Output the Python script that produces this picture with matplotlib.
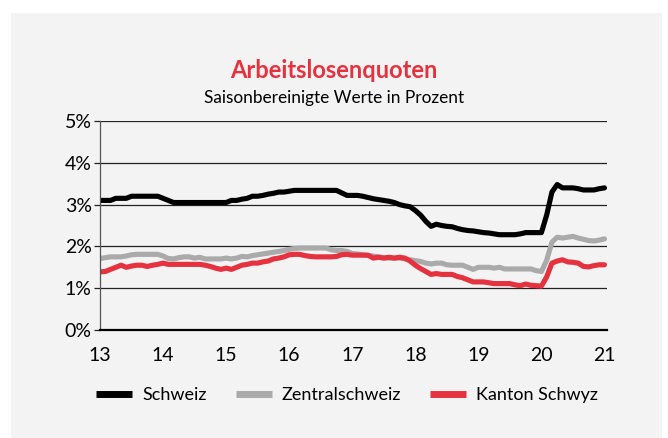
import numpy as np
import matplotlib
matplotlib.use("Agg")
import matplotlib.pyplot as plt
from matplotlib.patches import Rectangle

plt.rcParams["font.family"] = ["Lato", "DejaVu Sans"]

# monthly values, Jan 2013 .. Jan 2021
schweiz = [
    3.1, 3.1, 3.1, 3.15, 3.15, 3.15, 3.2, 3.2, 3.2, 3.2, 3.2, 3.2,
    3.15, 3.1, 3.05, 3.05, 3.05, 3.05, 3.05, 3.05, 3.05, 3.05, 3.05, 3.05,
    3.05, 3.1, 3.1, 3.13, 3.15, 3.2, 3.2, 3.22, 3.25, 3.27, 3.3, 3.3,
    3.32, 3.34, 3.34, 3.34, 3.34, 3.34, 3.34, 3.34, 3.34, 3.34, 3.28, 3.22,
    3.22, 3.22, 3.2, 3.17, 3.14, 3.12, 3.1, 3.08, 3.05, 3.0, 2.97, 2.95,
    2.86, 2.75, 2.6, 2.48, 2.53, 2.5, 2.48, 2.47, 2.43, 2.4, 2.38, 2.37,
    2.35, 2.33, 2.32, 2.3, 2.28, 2.28, 2.28, 2.28, 2.3, 2.33, 2.33, 2.33,
    2.33, 2.75, 3.3, 3.48, 3.4, 3.4, 3.4, 3.38, 3.35, 3.35, 3.35, 3.38,
    3.4,
]
zentralschweiz = [
    1.71, 1.73, 1.75, 1.75, 1.75, 1.77, 1.8, 1.81, 1.81, 1.81, 1.81, 1.81,
    1.77, 1.71, 1.7, 1.73, 1.75, 1.75, 1.72, 1.74, 1.7, 1.7, 1.7, 1.7,
    1.72, 1.7, 1.72, 1.76, 1.75, 1.78, 1.8, 1.82, 1.84, 1.86, 1.88, 1.9,
    1.93, 1.95, 1.96, 1.96, 1.96, 1.96, 1.96, 1.96, 1.92, 1.9, 1.9, 1.88,
    1.83, 1.82, 1.8, 1.78, 1.77, 1.75, 1.73, 1.72, 1.72, 1.72, 1.7, 1.68,
    1.66, 1.64, 1.6, 1.58, 1.6, 1.6, 1.56, 1.55, 1.55, 1.55, 1.5, 1.45,
    1.5, 1.5, 1.5, 1.48, 1.5, 1.46, 1.46, 1.46, 1.46, 1.46, 1.46, 1.42,
    1.4, 1.67, 2.1, 2.22, 2.2, 2.22, 2.24, 2.2, 2.17, 2.14, 2.13, 2.15,
    2.18,
]
kanton_schwyz = [
    1.39, 1.4, 1.45, 1.5, 1.55, 1.5, 1.53, 1.55, 1.55, 1.52, 1.55, 1.57,
    1.6, 1.57, 1.57, 1.57, 1.57, 1.57, 1.57, 1.57, 1.55, 1.52, 1.48, 1.45,
    1.48, 1.45, 1.5, 1.55, 1.57, 1.6, 1.6, 1.63, 1.65, 1.7, 1.72, 1.75,
    1.8, 1.81, 1.81, 1.78, 1.76, 1.75, 1.75, 1.75, 1.75, 1.76, 1.8, 1.81,
    1.79, 1.79, 1.79, 1.79, 1.72, 1.74, 1.72, 1.74, 1.72, 1.74, 1.72, 1.65,
    1.55, 1.47, 1.4, 1.33, 1.35, 1.33, 1.33, 1.33, 1.28, 1.25, 1.2, 1.15,
    1.15, 1.15, 1.13, 1.11, 1.11, 1.11, 1.11, 1.08, 1.06, 1.1, 1.07, 1.06,
    1.05, 1.27, 1.6, 1.65, 1.68, 1.63, 1.62, 1.6, 1.52, 1.51, 1.54, 1.56,
    1.56,
]
years = list(range(13, 22))
x = 13 + np.arange(len(schweiz)) / 12

red = "#e6323e"

fig = plt.figure(figsize=(6.68, 4.38), dpi=100)
fig.patch.set_facecolor("white")
fig.patches.append(Rectangle((11 / 668, 0), 651 / 668, 1 - 13 / 438,
                             transform=fig.transFigure, facecolor="#f3f3f3",
                             edgecolor="none", zorder=-10))

ax = fig.add_axes([100 / 668, 1 - 330 / 438, 507 / 668, 209 / 438])
ax.set_facecolor("none")

ax.plot(x, schweiz, color="black", lw=3.7, label="Schweiz", solid_capstyle="round")
ax.plot(x, zentralschweiz, color="#aaaaaa", lw=3.7, label="Zentralschweiz", solid_capstyle="round")
ax.plot(x, kanton_schwyz, color=red, lw=3.7, label="Kanton Schwyz", solid_capstyle="round")

ax.set_xlim(13, 21.04)
ax.set_ylim(0, 5)
ax.set_yticks(range(6))
ax.set_yticklabels([f"{v}%" for v in range(6)])
ax.set_xticks(years)
ax.set_xticklabels([str(y) for y in years])
ax.grid(axis="y", color="#222222", lw=0.9)
ax.set_axisbelow(True)
for s in ["top", "right"]:
    ax.spines[s].set_visible(False)
ax.spines["left"].set_color("#555555")
ax.spines["left"].set_linewidth(0.9)
ax.spines["bottom"].set_linewidth(1.6)
ax.tick_params(axis="y", length=4, width=0.9, color="#222222", labelsize=14, pad=2)
ax.tick_params(axis="x", length=0, labelsize=14, pad=12)

fig.text(0.5, 1 - 70 / 438, "Arbeitslosenquoten", ha="center", va="center",
         color=red, fontsize=17, fontweight="bold")
fig.text(0.5, 1 - 98 / 438, "Saisonbereinigte Werte in Prozent", ha="center",
         va="center", fontsize=12.4)

fig.legend(loc="center", bbox_to_anchor=(347 / 668, 1 - 395 / 438), ncol=3,
           frameon=False, fontsize=13, handlelength=2.0, handletextpad=0.55,
           columnspacing=1.6)
for line in fig.legends[0].get_lines():
    line.set_linewidth(5)
    line.set_solid_capstyle("butt")

fig.savefig("out.png", dpi=100, facecolor=fig.get_facecolor())
